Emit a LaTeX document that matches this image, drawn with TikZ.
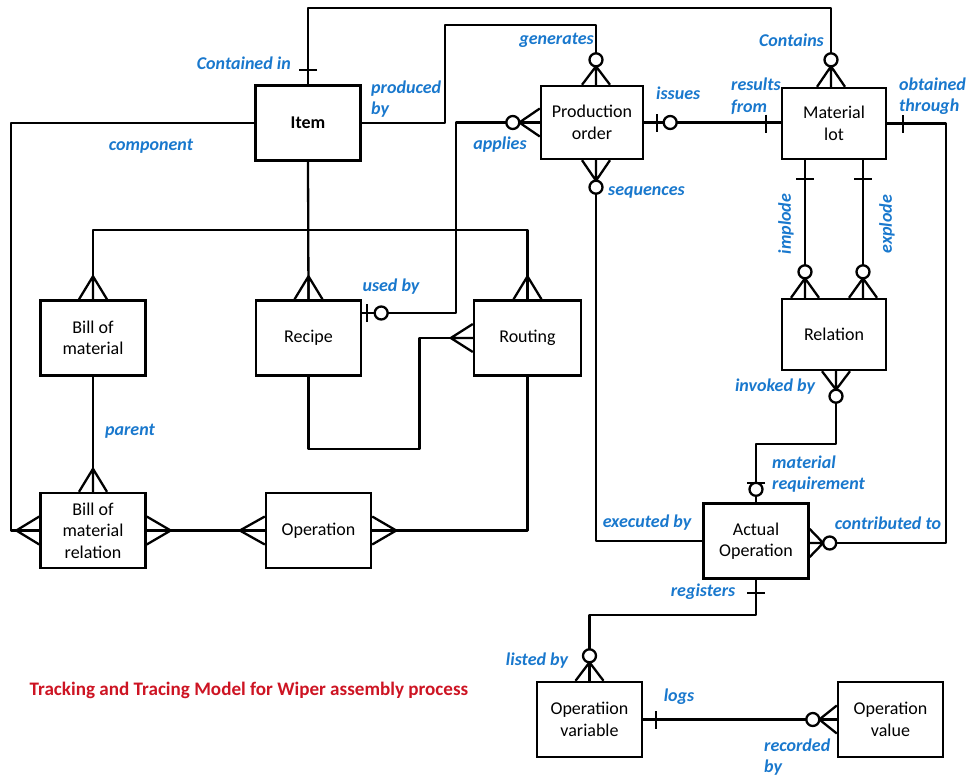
\documentclass[tikz,border=0pt]{standalone}
\usepackage{fontspec}
\setmainfont{Carlito}
\definecolor{lblue}{RGB}{25,120,205}
\definecolor{tred}{RGB}{205,20,35}
\tikzset{
  conn/.style={line width=2.3pt, line join=round},
  box/.style={draw, line width=2.4pt, minimum width=105pt, minimum height=75pt,
    align=center, inner sep=0pt, font=\fontsize{18}{21.5}\selectfont},
  lbl/.style={text=lblue, font=\fontsize{18}{21.5}\selectfont\bfseries\itshape,
    inner sep=0pt, align=left},
  ttl/.style={text=tred, font=\fontsize{19.1}{22}\selectfont\bfseries, inner sep=0pt}
}
% many (crow's foot)
\newcommand\mkmany[3][23]{\begin{scope}[shift={(#2)},rotate=#3]
  \draw[conn] (0,14)--(#1,0)--(0,-14) (0,0)--(#1,0);\end{scope}}
% zero or many
\newcommand\mkzmany[3][26]{\begin{scope}[shift={(#2)},rotate=#3]
  \draw[conn] (0,14)--(#1-6.5,0)--(0,-14) (0,0)--(#1,0);
  \draw[conn,fill=white] (#1,0) circle[radius=6.5pt];\end{scope}}
% one
\newcommand\mkone[3][14]{\begin{scope}[shift={(#2)},rotate=#3]
  \draw[conn] (#1,9)--(#1,-9);\end{scope}}
% zero or one
\newcommand\mkzone[4]{\begin{scope}[shift={(#1)},rotate=#2]
  \draw[conn] (#3,9)--(#3,-9);
  \draw[conn,fill=white] (#4,0) circle[radius=6.5pt];\end{scope}}
\begin{document}
\begin{tikzpicture}[x=1pt,y=-1pt]
\useasboundingbox (0,0) rectangle (967,777);
% entities
\node[box] (item) at (308,123) {\bfseries Item};
\node[box, minimum width=102pt, minimum height=73pt] (po) at (592,122.5) {Production\\order};
\node[box, minimum width=104pt, minimum height=71pt] (ml) at (834,123.5) {Material\\lot};
\node[box] (bom) at (93,338) {Bill of\\material};
\node[box] (recipe) at (308.5,338) {Recipe};
\node[box, minimum width=107pt] (routing) at (527.5,338) {Routing};
\node[box, minimum width=104pt, minimum height=71pt] (rel) at (834,334.5) {Relation};
\node[box] (bomr) at (93,530.5) {Bill of\\material\\relation};
\node[box] (oper) at (318.5,530.5) {Operation};
\node[box] (ao) at (756,541) {Actual\\Operation};
\node[box] (ov) at (589.5,719.5) {Operatiion\\variable};
\node[box] (oval) at (890.5,719.5) {Operation\\value};
% connectors
\draw[conn] (item.north) -- ++(0,-76) -| ([xshift=-3pt]ml.north);
\draw[conn] (item.east) -- ++(83,0) -- ++(0,-98) -| ([xshift=4pt]po.north);
\draw[conn] (item.west) -- ++(-243,0) |- (bomr.west);
\draw[conn] (item.south) -- (recipe.north);
\draw[conn] (bom.north) -- ++(0,-69) -| (routing.north);
\draw[conn] (po.west) -- ++(-84,0) |- ([yshift=25pt]recipe.east);
\draw[conn] (po.east) -- (po.east -| ml.west);
\draw[conn] ([xshift=4pt]po.south) |- (ao.west);
\draw[conn] (ml.east) -- ++(59,0) |- ([yshift=-2pt]ao.east);
\draw[conn] ([xshift=-29pt]ml.south) -- ([xshift=-29pt]rel.north);
\draw[conn] ([xshift=29pt]ml.south) -- ([xshift=29pt]rel.north);
\draw[conn] ([xshift=2pt]rel.south) -- ++(0,73) -| (ao.north);
\draw[conn] (ao.south) -- ++(0,35) -| (ov.north);
\draw[conn] (ov.east) -- (oval.west);
\draw[conn] (recipe.south) -- ++(0,72) -- ++(111,0) |- (routing.west);
\draw[conn] (bom.south) -- (bomr.north);
\draw[conn] (bomr.east) -- (oper.west);
\draw[conn] (oper.east) -| (routing.south);
% cardinality markers
\mkone{item.north}{90}
\mkzmany[27]{[xshift=-3pt]ml.north}{90}
\mkzmany[25]{[xshift=4pt]po.north}{90}
\mkmany[23]{bomr.west}{180}
\mkmany{recipe.north}{90}
\mkmany{bom.north}{90}
\mkmany{routing.north}{90}
\mkzmany[27]{po.west}{180}
\mkzone{[yshift=25pt]recipe.east}{0}{5}{19}
\mkzone{po.east}{0}{13}{26}
\mkone[15]{ml.west}{180}
\mkzmany[27]{[xshift=4pt]po.south}{-90}
\mkone[16]{ml.east}{0}
\mkzmany[20]{[yshift=-2pt]ao.east}{0}
\mkone[19]{[xshift=-29pt]ml.south}{-90}
\mkone[19]{[xshift=29pt]ml.south}{-90}
\mkzmany[26]{[xshift=-29pt]rel.north}{90}
\mkzmany[26]{[xshift=29pt]rel.north}{90}
\mkzmany[25]{[xshift=2pt]rel.south}{-90}
\mkzone{ao.north}{90}{19}{13}
\mkone[13]{ao.south}{-90}
\mkzmany[25]{ov.north}{90}
\mkone[13]{ov.east}{0}
\mkzmany[24]{oval.west}{180}
\mkmany[22]{routing.west}{180}
\mkmany{bomr.north}{90}
\mkmany[24]{bomr.east}{0}
\mkmany[25]{oper.west}{180}
\mkmany[24]{oper.east}{0}
% labels
\node[lbl, anchor=east] (l1) at (291,63) {Contained in};
\node[lbl, anchor=west] (l2) at (371,99) {produced\\by};
\node[lbl, anchor=east] (l3) at (594,40) {generates};
\node[lbl, anchor=east] (l4) at (824,40) {Contains};
\node[lbl, anchor=west] (l5) at (656,93) {issues};
\node[lbl, anchor=west] (l6) at (731,96) {results\\from};
\node[lbl, anchor=west] (l7) at (899,96) {obtained\\through};
\node[lbl] (l8) at (151,146) {component};
\node[lbl] (l9) at (500,145) {applies};
\node[lbl, anchor=west] (l10) at (608,192) {sequences};
\node[lbl, rotate=90] (l11) at (786,224) {implode};
\node[lbl, rotate=90] (l12) at (887,224) {explode};
\node[lbl] (l13) at (391,287) {used by};
\node[lbl] (l14) at (130,431) {parent};
\node[lbl] (l15) at (775,387) {invoked by};
\node[lbl, anchor=west] (l16) at (772,474) {material\\requirement};
\node[lbl] (l17) at (647,523) {executed by};
\node[lbl] (l18) at (888,523) {contributed to};
\node[lbl] (l19) at (703,592) {registers};
\node[lbl] (l20) at (537,661) {listed by};
\node[lbl] (l21) at (679,697) {logs};
\node[lbl, anchor=west] (l22) at (764,757) {recorded\\by};
\node[ttl] (title) at (249,690) {Tracking and Tracing Model for Wiper assembly process};
\end{tikzpicture}
\end{document}
